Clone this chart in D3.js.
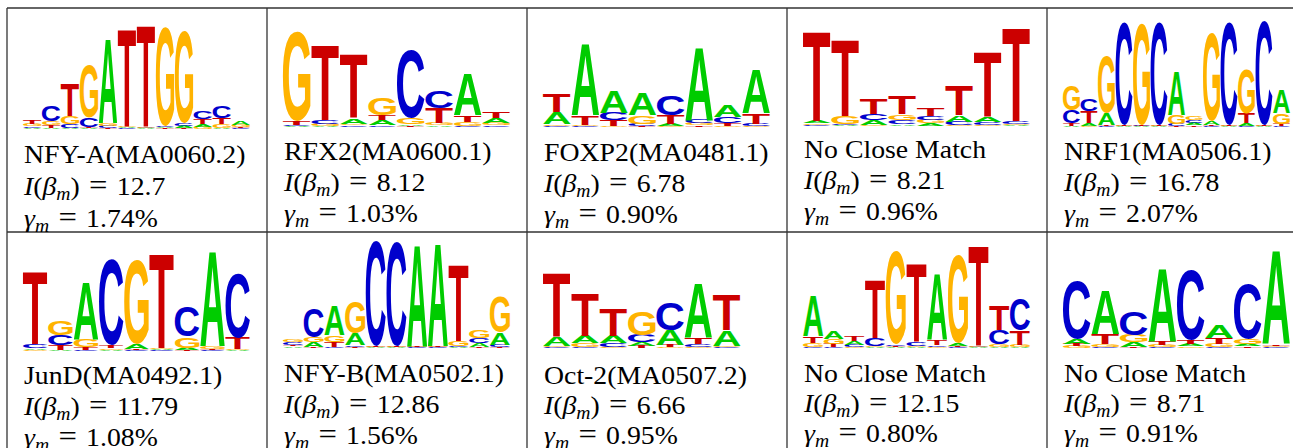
<!DOCTYPE html>
<html>
<head>
<meta charset="utf-8">
<script src="https://cdn.jsdelivr.net/npm/d3@7"></script>
<style>
  body { margin: 0; background: #fff; }
</style>
</head>
<body>
<svg id="chart" width="1293" height="448"></svg>
<script>
// nucleotide order used in every position row: [A, C, G, T]
const bases = ["A", "C", "G", "T"];
const baseColors = { A: "#00cc00", C: "#0000cc", G: "#ffb300", T: "#cc0000" };

const motifNames = [
  "NFY-A(MA0060.2)", "RFX2(MA0600.1)", "FOXP2(MA0481.1)", "No Close Match", "NRF1(MA0506.1)",
  "JunD(MA0492.1)", "NFY-B(MA0502.1)", "Oct-2(MA0507.2)", "No Close Match", "No Close Match"
];
const infoValues = ["12.7", "8.12", "6.78", "8.21", "16.78", "11.79", "12.86", "6.66", "12.15", "8.71"];
const gammaValues = ["1.74", "1.03", "0.90", "0.96", "2.07", "1.08", "1.56", "0.95", "0.80", "0.91"];

// letter heights in bits, one row per position
const nfyA = [
  [.02, .03, .05, .07], [.02, .29, .07, .05], [.02, .07, .15, .58], [.02, .16, .96, .02],
  [1.53, .04, .05, .02], [.02, .01, .02, 1.78], [.01, .01, .02, 1.84], [.02, .02, 1.80, .01],
  [.04, .05, 1.67, .02], [.05, .13, .04, .09], [.02, .22, .07, .11], [.07, .02, .04, .02]
];
const rfx2 = [
  [.02, .02, 1.64, .06], [.02, .06, .04, 1.36], [.10, .03, .03, 1.15], [.09, .03, .30, .09],
  [.03, 1.24, .12, .02], [.03, .31, .04, .28], [.76, .02, .07, .12], [.08, .03, .05, .12]
];
const foxp2 = [
  [.22, .02, .03, .33], [1.30, .02, .02, .17], [.40, .13, .02, .11], [.40, .04, .15, .02],
  [.04, .36, .02, .16], [1.33, .06, .04, .03], [.20, .11, .02, .05], [.79, .04, .02, .19]
];
const noMatchA = [
  [.04, .02, .03, 1.64], [.02, .02, .14, 1.39], [.08, .12, .02, .27], [.03, .08, .10, .32],
  [.05, .08, .06, .15], [.12, .06, .02, .53], [.09, .05, .02, 1.18], [.02, .05, .02, 1.70]
];
const nrf1 = [
  [.02, .24, .45, .05], [.05, .22, .02, .21], [.21, .02, 1.03, .02], [.01, 1.87, .01, .01],
  [.01, .01, 1.85, .01], [.01, 1.87, .01, .01], [.79, .04, .16, .02], [.04, .05, .06, .03],
  [.07, .02, 1.60, .02], [.01, 1.87, .01, .01], [.05, .02, .82, .18], [.01, 1.90, .01, .01],
  [.42, .02, .20, .04]
];
const junD = [
  [.03, .07, .02, 1.31], [.02, .18, .27, .08], [1.03, .02, .15, .05], [.02, 1.55, .03, .05],
  [.09, .02, 1.53, .02], [.02, .01, .02, 1.73], [.04, .55, .20, .02], [1.73, .02, .05, .02],
  [.02, 1.18, .02, .20]
];
const nfyB = [
  [.03, .04, .05, .03], [.09, .52, .09, .02], [.55, .02, .12, .09], [.21, .03, .58, .02],
  [.01, 1.92, .01, .01], [.01, 1.90, .01, .01], [1.84, .01, .01, .01], [1.87, .01, .01, .01],
  [.02, .02, .09, 1.39], [.07, .09, .13, .02], [.22, .04, .64, .02]
];
const oct2 = [
  [.19, .02, .02, 1.33], [.15, .02, .08, .90], [.15, .08, .02, .56], [.08, .15, .50, .04],
  [.31, .58, .02, .04], [1.15, .06, .02, .13], [.33, .02, .02, .73]
];
const noMatchB = [
  [.73, .02, .08, .12], [.15, .02, .09, .06], [.06, .04, .02, .09], [.02, .15, .02, 1.06],
  [.02, .03, 1.71, .02], [.02, .08, .02, 1.42], [1.21, .03, .02, .09], [.05, .02, 1.60, .02],
  [.01, .01, .02, 1.82], [.02, .27, .04, .45], [.02, .58, .04, .26]
];
const noMatchC = [
  [.09, 1.06, .04, .04], [.79, .02, .05, .19], [.08, .43, .13, .02], [1.33, .02, .04, .07],
  [.05, 1.27, .03, .07], [.24, .02, .06, .11], [.05, 1.00, .09, .03], [1.70, .01, .03, .03]
];
const motifs = [nfyA, rfx2, foxp2, noMatchA, nrf1, junD, nfyB, oct2, noMatchB, noMatchC];

// layout of the table
const cellW = 260, tableLeft = 7, rowTops = [8, 232];
const logoW = 227, logoH = 110;
const logoBase = [129, 127, 127, 126, 127, 351, 348, 348, 348, 348];
const logoScale = [1, 1, 1, 1, 1, 1, 1, 0.87, 1, 1];
const textBase = [163, 160, 161, 158, 160, 384, 382, 384, 382, 382];
const lineGap = [32, 31, 31, 31, 31, 31, 31, 30, 30, 30];
const stretch = 1.09; // computer modern is wider than times

const svg = d3.select("#chart");

// table rules
const grid = svg.append("g").attr("stroke", "#333").attr("stroke-width", 1.3);
rowTops.forEach(y => grid.append("line").attr("x1", tableLeft).attr("x2", 1293).attr("y1", y).attr("y2", y));
d3.range(6).forEach(c => grid.append("line")
  .attr("x1", tableLeft + c * cellW).attr("x2", tableLeft + c * cellW)
  .attr("y1", rowTops[0]).attr("y2", 448));

// ink box of each letter, so a glyph can be stretched to fill its slot
const ctx = document.createElement("canvas").getContext("2d");
ctx.font = "bold 100px 'Liberation Sans'";
const glyph = {};
bases.forEach(b => {
  const m = ctx.measureText(b);
  glyph[b] = { l: m.actualBoundingBoxLeft, r: m.actualBoundingBoxRight,
               a: m.actualBoundingBoxAscent, d: m.actualBoundingBoxDescent };
});

motifs.forEach((positions, i) => {
  const col = i % 5, row = Math.floor(i / 5);
  const cellX = tableLeft + col * cellW;
  const x0 = cellX + 16;
  const s = logoScale[i];

  const x = d3.scaleBand()
    .domain(d3.range(positions.length))
    .range([x0, x0 + logoW * s])
    .paddingInner(0.03);
  const y = d3.scaleLinear()
    .domain([0, 2])
    .range([logoBase[i], logoBase[i] - logoH * s]);

  const logo = svg.append("g");
  positions.forEach((heights, p) => {
    // smallest at the bottom, tallest on top
    const stack = bases.map((b, k) => ({ b: b, h: heights[k] })).sort((a, c) => a.h - c.h);
    let acc = 0;
    stack.forEach(d => {
      const yTop = y(acc + d.h), yBot = y(acc);
      acc += d.h;
      const g = glyph[d.b];
      const w = x.bandwidth(), h = yBot - yTop;
      const sx = w / (g.l + g.r), sy = h / (g.a + g.d);
      logo.append("text")
        .text(d.b)
        .attr("font-family", "'Liberation Sans', Arial, sans-serif")
        .attr("font-weight", "bold")
        .attr("font-size", 100)
        .attr("fill", baseColors[d.b])
        .attr("transform", `translate(${x(p) + g.l * sx},${yTop + g.a * sy}) scale(${sx},${sy})`);
    });
  });

  // caption lines
  const tx = cellX + 17;
  const cap = svg.append("g")
    .attr("font-family", "'Liberation Serif', 'Times New Roman', serif")
    .attr("font-size", 25.5)
    .attr("fill", "#000");
  const line = k => cap.append("text")
    .attr("transform", `translate(${tx},${textBase[i] + k * lineGap[i]}) scale(${stretch},1)`);
  const equals = (t, dy) => {
    t.append("tspan").attr("dy", dy).text("\u2004");
    t.append("tspan").attr("font-size", 30).text("=");
    t.append("tspan").text("\u2004");
  };

  line(0).text(motifNames[i]);

  const l2 = line(1);
  l2.append("tspan").attr("font-style", "italic").text("I");
  l2.append("tspan").text("(");
  l2.append("tspan").attr("font-style", "italic").text("β");
  l2.append("tspan").attr("font-style", "italic").attr("font-size", 18).attr("dy", 5).text("m");
  l2.append("tspan").attr("dy", -5).text(")");
  equals(l2, 0);
  l2.append("tspan").text(infoValues[i]);

  const l3 = line(2);
  l3.append("tspan").attr("font-style", "italic").text("γ");
  l3.append("tspan").attr("font-style", "italic").attr("font-size", 18).attr("dy", 5).text("m");
  equals(l3, -5);
  l3.append("tspan").text(gammaValues[i] + "%");
});
</script>
</body>
</html>
